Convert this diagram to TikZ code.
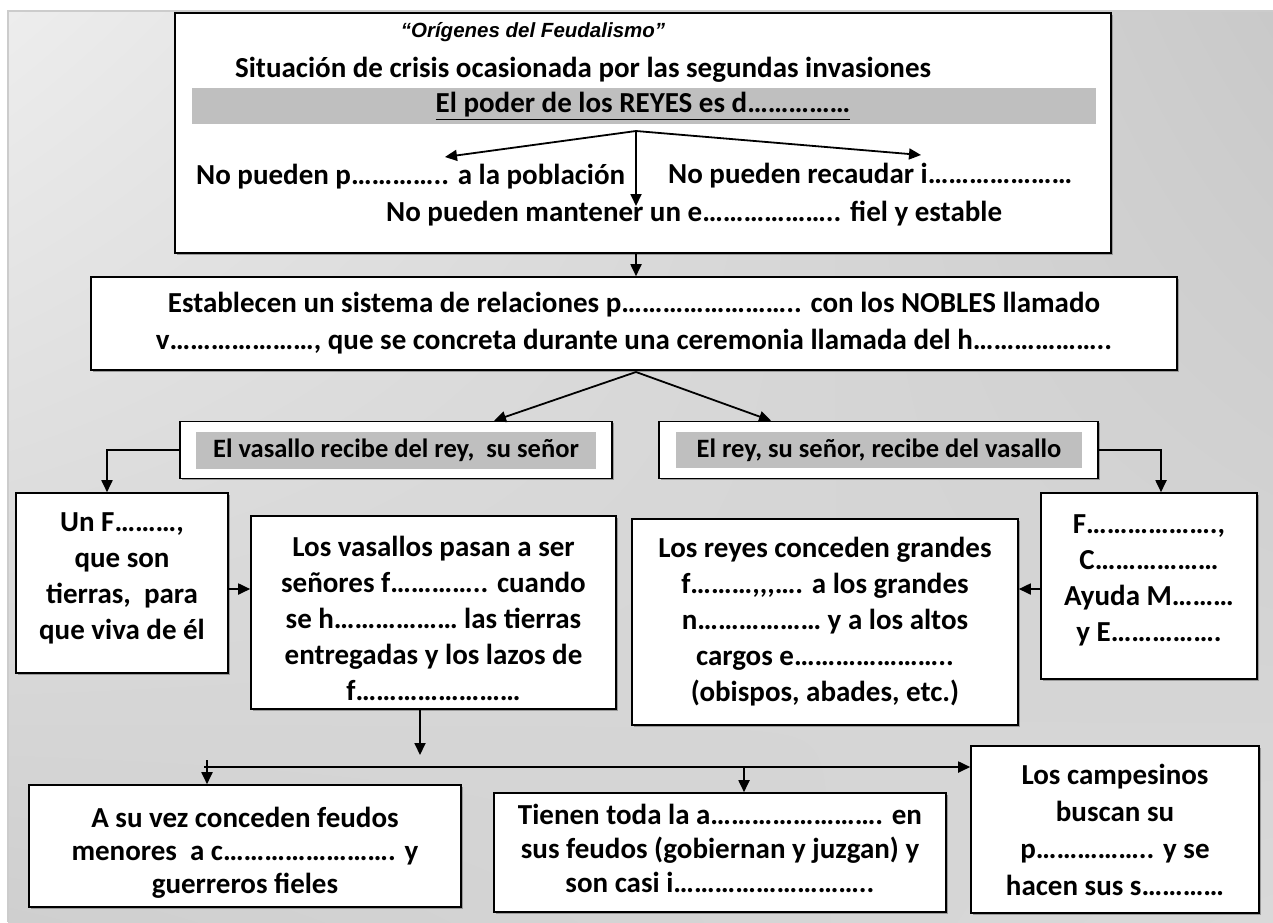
\documentclass[tikz,border=0pt]{standalone}
\usepackage{fontspec}
\setmainfont{Carlito}
\newfontfamily\titlefont{Liberation Sans}
\usetikzlibrary{arrows.meta,shadows,shadings}
\definecolor{bandgray}{HTML}{BFBFBF}
\definecolor{bgul}{HTML}{EDEDED}
\definecolor{bgur}{HTML}{C9C9C9}
\definecolor{bgll}{HTML}{CFCFCF}
\definecolor{bglr}{HTML}{D9D9D9}
\newcommand\bfbody{\fontsize{29pt}{36pt}\selectfont\bfseries}
\newcommand\bfmid{\fontsize{26.5pt}{32pt}\selectfont\bfseries}
\newcommand\titlefnt{\titlefont\fontsize{20.5pt}{24pt}\selectfont\bfseries\itshape}
\begin{document}
\begin{tikzpicture}[x=1pt,y=-1pt,
  box/.style={draw=black,line width=1.6pt,fill=white,inner sep=0pt,align=center,
    drop shadow={shadow xshift=1.6pt,shadow yshift=-1.6pt,fill=gray!80,opacity=1}},
  txt/.style={inner sep=0pt,font=\bfbody,align=center},
  band/.style={fill=bandgray,inner sep=0pt},
  arr/.style={-{Triangle[length=12pt,width=11pt]},line width=1.8pt}]
\useasboundingbox (0,0) rectangle (1273,922);
\fill[white] (0,0) rectangle (1273,922);
\shade[upper left=bgul,upper right=bgur,lower left=bgll,lower right=bglr] (8,11) rectangle (1273,922);
\draw[gray!40,line width=1.2pt] (8,922) -- (8,11) -- (1273,11);

% top box
\node[box,minimum width=936pt,minimum height=240pt] (top) at (643,133) {};
\node[inner sep=0pt,font=\titlefnt] (title) at (533,32) {“Orígenes del Feudalismo”};
\node[txt] (sit) at (583,70) {Situación de crisis ocasionada por las segundas invasiones};
\node[band,minimum width=904pt,minimum height=36pt] (bandbox) at (644,106) {};
\node[txt] (poder) at (643,106) {\underline{El poder de los REYES es d……………}};
\coordinate (split) at (636,131);
\coordinate (tipL) at (445,157);
\coordinate (tipR) at (921,155);
\coordinate (tipD) at (636,206);
\node[txt,anchor=west] (np) at (196,177) {No pueden p………….. a la población};
\node[txt,anchor=west] (nr) at (668,176) {No pueden recaudar i…………………};
\node[txt,anchor=west] (nm) at (386,214) {No pueden mantener un e……………….. fiel y estable};
\draw[arr] (split) -- (tipL);
\draw[arr] (split) -- (tipR);
\draw[arr] (split) -- (tipD);

% second box
\node[box,minimum width=1086pt,minimum height=93pt,font=\fontsize{29pt}{37pt}\selectfont\bfseries] (est) at (634,323.5)
  {Establecen un sistema de relaciones p…………………….. con los NOBLES llamado\\ v…………………, que se concreta durante una ceremonia llamada del h………………..};
\draw[arr] (split |- top.south) -- (split |- est.north);

% middle boxes
\node[box,minimum width=432pt,minimum height=57pt] (vr) at (396,450) {};
\node[band,minimum width=400pt,minimum height=37pt,font=\bfmid] (vrt) at (396,450) {El vasallo recibe del rey,\ \ su señor};
\node[box,minimum width=439pt,minimum height=57pt] (rr) at (878.5,450) {};
\node[band,minimum width=406pt,minimum height=36pt,font=\bfmid] (rrt) at (879,450) {El rey, su señor, recibe del vasallo};
\coordinate (split2) at (636,372);
\draw[arr] (split2) -- ([xshift=98pt]vr.north);
\draw[arr] (split2) -- ([xshift=-107.5pt]rr.north);

% lower boxes
\node[box,minimum width=212pt,minimum height=180pt] (unf) at (122,583) {};
\node[txt] (unft) at (122,578) {Un F………,\\ que son\\ tierras,\ \ para\\ que viva de él};
\node[box,minimum width=365pt,minimum height=193pt] (vas) at (433.5,612.5) {};
\node[txt] (vast) at (433.5,618) {Los vasallos pasan a ser\\ señores f………….. cuando\\ se h……………… las tierras\\ entregadas y los lazos de\\ f……………………};
\node[box,minimum width=386pt,minimum height=206pt,font=\bfbody] (rey) at (825,622)
  {Los reyes conceden grandes\\ f………,{},{},…. a los grandes\\ n……………… y a los altos\\ cargos e…………………..\\ (obispos, abades, etc.)};
\node[box,minimum width=216pt,minimum height=186pt] (fb) at (1149,586) {};
\node[txt] (fbt) at (1149,580) {F……………….,\\ C………………\\ Ayuda M………\\ y E…………….};

\draw[arr] (vr.west) -| ([xshift=-15pt]unf.north);
\draw[arr] (rr.east) -| ([xshift=12pt]fb.north);
\draw[arr] ([yshift=-6pt]unf.east) -- ([yshift=-6pt]unf.east -| vas.west);
\draw[arr] ([yshift=-3pt]fb.west) -- ([yshift=-3pt]fb.west -| rey.east);

% bottom boxes
\node[box,minimum width=432pt,minimum height=122pt] (b1) at (245,846) {};
\node[txt,font=\fontsize{29pt}{33pt}\selectfont\bfseries] (b1t) at (245,853)
  {A su vez conceden feudos\\ menores\ \ a c……………………. y\\ guerreros fieles};
\node[box,minimum width=452pt,minimum height=119pt] (b2) at (720,852.5) {};
\node[txt,font=\fontsize{29pt}{34pt}\selectfont\bfseries] (b2t) at (720,848)
  {Tienen toda la a……………………. en\\ sus feudos (gobiernan y juzgan) y\\ son casi i………………………..};
\node[box,minimum width=288pt,minimum height=167pt,font=\fontsize{29pt}{37pt}\selectfont\bfseries] (camp) at (1115,829.5)
  {Los campesinos\\ buscan su\\ p…………….. y se\\ hacen sus s…………};

\coordinate (vdown) at (420,755);
\draw[arr] (vas.south -| vdown) -- (vdown);
\coordinate (hl) at (204,767);
\draw[arr] (hl) -- (hl -| camp.west);
\coordinate (tk) at (207,760);
\draw[arr] (tk) -- (tk |- b1.north);
\coordinate (hb) at (744,767);
\draw[arr] (hb) -- (hb |- b2.north);
\end{tikzpicture}
\end{document}
